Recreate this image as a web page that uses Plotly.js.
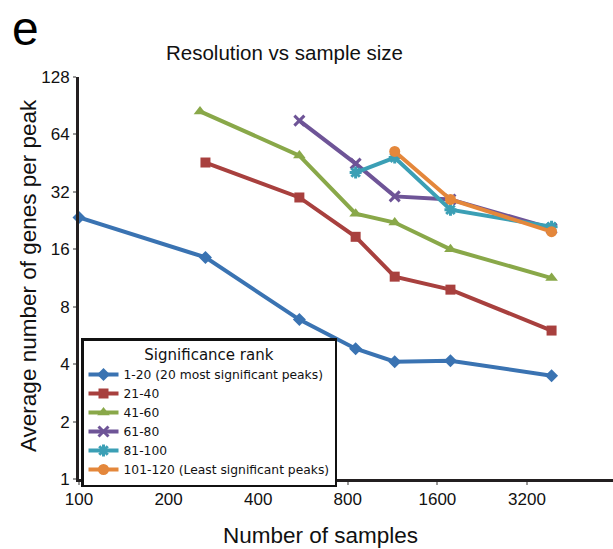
<!DOCTYPE html>
<html>
<head>
<meta charset="utf-8">
<script src="https://cdn.plot.ly/plotly-3.0.1.min.js"></script>
<style>html,body{margin:0;padding:0;background:#fff;}#chart{width:613px;height:549px;}</style>
</head>
<body>
<div id="chart"></div>
<script>
// ---- data ----
const seriesNames = [
  "1-20 (20 most significant peaks)",
  "21-40",
  "41-60",
  "61-80",
  "81-100",
  "101-120 (Least significant peaks)"
];
const xBlue   = [100, 266, 550, 850, 1150, 1770, 3870];
const yBlue   = [23.5, 14.5, 6.85, 4.82, 4.12, 4.17, 3.48];
const xRed    = [266, 550, 850, 1150, 1770, 3870];
const yRed    = [45.6, 29.9, 18.6, 11.5, 9.83, 6.0];
const xGreen  = [255, 550, 850, 1150, 1770, 3870];
const yGreen  = [84.5, 49.6, 24.6, 22.1, 16.0, 11.3];
const xPurple = [550, 850, 1150, 1770, 3870];
const yPurple = [75.6, 45.0, 30.3, 29.2, 20.6];
const xTeal   = [850, 1150, 1770, 3870];
const yTeal   = [40.4, 48.4, 25.8, 21.0];
const xOrange = [1150, 1770, 3870];
const yOrange = [52.1, 29.2, 19.8];
const xTicks  = [100, 200, 400, 800, 1600, 3200];
const yTicks  = [1, 2, 4, 8, 16, 32, 64, 128];

const colors = ["#3a73b2", "#a8403e", "#89a849", "#6e5497", "#3b9fb5", "#e4873b"];
const symbols = ["diamond", "square", "triangle-up", "x-thin-open", "asterisk-open", "circle"];
const sizes = [10, 10, 11, 10, 10, 11];
const xs = [xBlue, xRed, xGreen, xPurple, xTeal, xOrange];
const ys = [yBlue, yRed, yGreen, yPurple, yTeal, yOrange];

const traces = seriesNames.map((name, i) => ({
  type: "scatter",
  mode: "lines+markers",
  name: name,
  x: xs[i],
  y: ys[i],
  cliponaxis: false,
  line: {color: colors[i], width: 4},
  marker: {
    symbol: symbols[i],
    size: sizes[i],
    color: colors[i],
    line: {color: colors[i], width: (symbols[i].indexOf("open") >= 0) ? 3 : 0}
  }
}));

const W = 613, H = 549;
const mL = 79, mR = 0, mT = 77, mB = 70;
const pw = W - mL - mR, ph = H - mT - mB;
const px = v => (v - mL) / pw;
const py = v => (H - mB - v) / ph;

const layout = {
  width: W, height: H,
  margin: {l: mL, r: mR, t: mT, b: mB, pad: 0},
  paper_bgcolor: "#fff",
  plot_bgcolor: "#fff",
  font: {family: "Liberation Sans, Arial, sans-serif", color: "#111"},
  title: {
    text: "Resolution vs sample size",
    font: {size: 20.5, color: "#111"},
    xref: "container", x: 284.5 / W, xanchor: "center",
    yref: "container", y: 1 - 53 / H, yanchor: "middle"
  },
  xaxis: {
    type: "log",
    range: [2, 2 + (pw / 89.6) * Math.log10(2)],
    tickvals: xTicks,
    ticktext: xTicks.map(String),
    showgrid: false, zeroline: false,
    showline: true, linecolor: "#231f20", linewidth: 3,
    ticks: "outside", ticklen: 3, tickwidth: 2, tickcolor: "#999",
    tickfont: {size: 17, color: "#111"}
  },
  yaxis: {
    type: "log",
    range: [0, Math.log10(128)],
    tickvals: yTicks,
    ticktext: yTicks.map(String),
    showgrid: false, zeroline: false,
    showline: true, linecolor: "#231f20", linewidth: 3,
    ticks: "outside", ticklen: 3, tickwidth: 2, tickcolor: "#999",
    tickfont: {size: 17, color: "#111"}
  },
  showlegend: true,
  legend: {
    x: px(81), xanchor: "left",
    y: py(338), yanchor: "top",
    bgcolor: "#fff",
    bordercolor: "#111", borderwidth: 2.5,
    font: {family: "DejaVu Sans, sans-serif", size: 12.3, color: "#111"},
    title: {text: "Significance rank", side: "top center",
            font: {family: "DejaVu Sans, sans-serif", size: 15, color: "#111"}},
    tracegroupgap: 0,
    itemwidth: 30
  },
  annotations: [
    {text: "e", xref: "paper", yref: "paper", x: px(25), y: py(28),
     xanchor: "center", yanchor: "middle", showarrow: false,
     font: {size: 48, color: "#000"}},
    {text: "Average number of genes per peak", xref: "paper", yref: "paper",
     x: px(28), y: py(276), xanchor: "center", yanchor: "middle",
     textangle: -90, showarrow: false, font: {size: 22.5, color: "#111"}},
    {text: "Number of samples", xref: "paper", yref: "paper",
     x: px(320), y: py(535), xanchor: "center", yanchor: "middle",
     showarrow: false, font: {size: 22.5, color: "#111"}}
  ]
};

Plotly.newPlot("chart", traces, layout, {displayModeBar: false, staticPlot: true});
</script>
</body>
</html>
